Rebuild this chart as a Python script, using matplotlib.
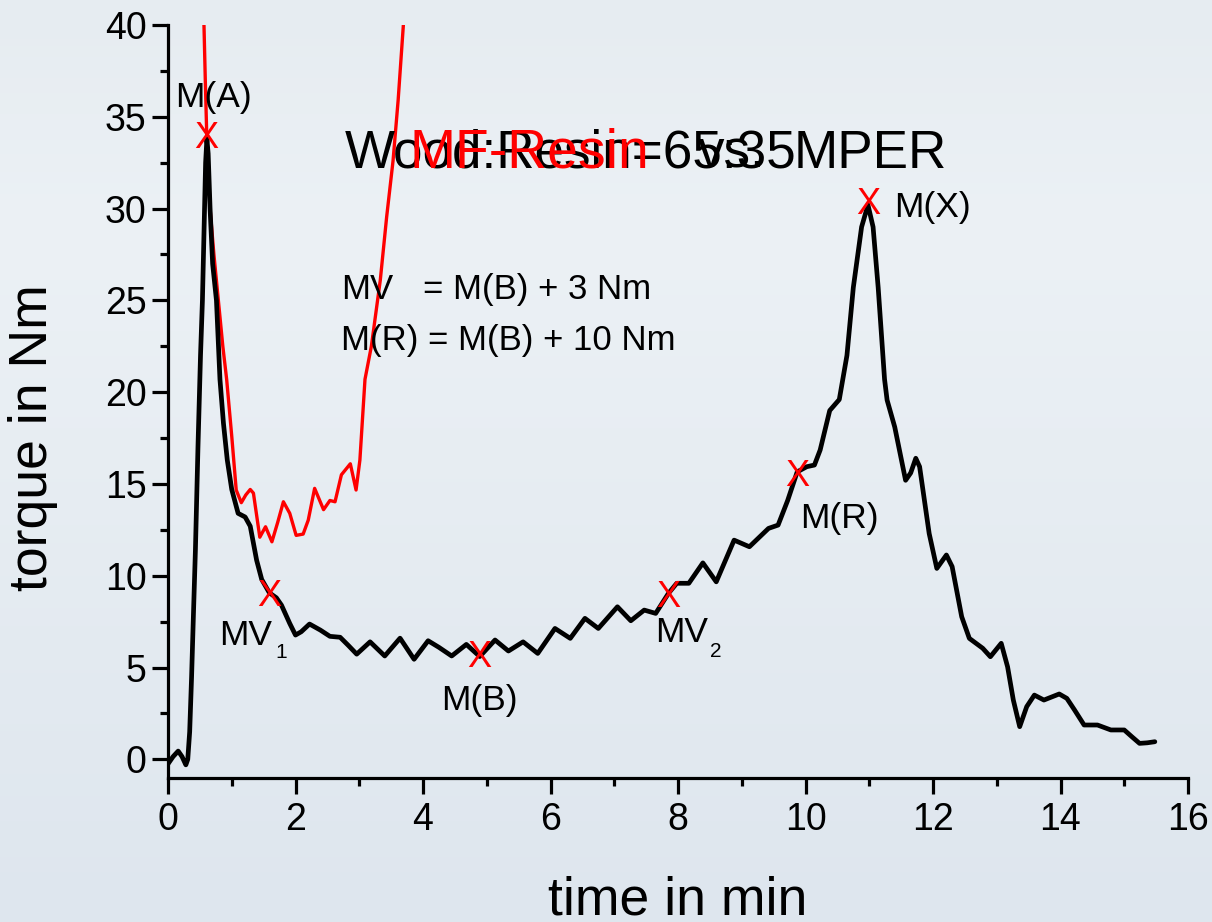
import numpy as np
import matplotlib
matplotlib.use("Agg")
import matplotlib.pyplot as plt
from matplotlib import font_manager
from matplotlib.ticker import MultipleLocator
from matplotlib.colors import LinearSegmentedColormap

# ---------------- data ----------------
black_t = [0.00, 0.08, 0.16, 0.22, 0.28, 0.31, 0.34, 0.37, 0.40, 0.43, 0.47, 0.51, 0.54, 0.57,
           0.59, 0.61, 0.63, 0.66, 0.70, 0.76, 0.815, 0.87, 0.93, 1.00, 1.10, 1.21, 1.29, 1.39,
           1.47, 1.59, 1.70, 1.78, 1.91, 2.00, 2.09, 2.22, 2.39, 2.54, 2.70, 2.83, 2.96, 3.17,
           3.40, 3.64, 3.86, 4.08, 4.25, 4.45, 4.68, 4.89, 5.13, 5.34, 5.57, 5.80, 6.07, 6.31,
           6.54, 6.75, 7.05, 7.26, 7.47, 7.65, 7.85, 7.98, 8.17, 8.39, 8.60, 8.88, 9.12, 9.42,
           9.57, 9.72, 9.87, 10.02, 10.14, 10.23, 10.38, 10.53, 10.65, 10.75, 10.88, 10.98,
           11.06, 11.14, 11.24, 11.28, 11.40, 11.57, 11.65, 11.73, 11.79, 11.94, 12.06, 12.21,
           12.30, 12.45, 12.57, 12.78, 12.90, 13.07, 13.17, 13.26, 13.36, 13.47, 13.59, 13.74,
           13.98, 14.10, 14.22, 14.37, 14.58, 14.79, 15.00, 15.12, 15.24, 15.36, 15.48]
black_v = [-0.25, 0.15, 0.45, 0.15, -0.3, 0.0, 1.5, 4.5, 8.0, 11.4, 17.0, 22.0, 25.0, 29.5,
           32.5, 33.8, 33.0, 30.0, 27.0, 25.0, 20.7, 18.3, 16.3, 14.7, 13.4, 13.2, 12.7, 10.85,
           9.8, 9.07, 8.8, 8.4, 7.4, 6.77, 6.95, 7.37, 7.04, 6.7, 6.65, 6.2, 5.73, 6.4,
           5.63, 6.6, 5.45, 6.46, 6.1, 5.63, 6.26, 5.6, 6.5, 5.9, 6.4, 5.77, 7.13, 6.59,
           7.68, 7.13, 8.31, 7.55, 8.13, 7.95, 9.04, 9.59, 9.59, 10.7, 9.67, 11.94, 11.58, 12.58,
           12.76, 14.1, 15.66, 15.94, 16.03, 16.85, 19.0, 19.6, 22.0, 25.7, 29.0, 30.2,
           29.0, 25.7, 20.7, 19.57, 18.1, 15.2, 15.6, 16.4, 15.94, 12.3, 10.4, 11.13,
           10.5, 7.77, 6.59, 6.05, 5.59, 6.32, 5.04, 3.23, 1.78, 2.87, 3.5, 3.23,
           3.56, 3.32, 2.69, 1.87, 1.87, 1.6, 1.6, 1.23, 0.87, 0.9, 0.96]

red_t = [0.555, 0.565, 0.585, 0.607, 0.66, 0.72, 0.79, 0.86, 0.92, 1.00, 1.07, 1.15, 1.22,
         1.29, 1.34, 1.44, 1.53, 1.63, 1.72, 1.81, 1.91, 2.01, 2.12, 2.20, 2.30, 2.44, 2.54,
         2.62, 2.72, 2.86, 2.95, 3.01, 3.09, 3.19, 3.33, 3.43, 3.53, 3.61, 3.69, 3.71]
red_v = [41.0, 39.9, 37.0, 34.1, 30.0, 27.5, 25.0, 22.5, 20.7, 17.6, 14.67, 13.98, 14.4,
         14.7, 14.5, 12.1, 12.67, 11.85, 12.9, 14.03, 13.4, 12.2, 12.27, 13.03, 14.76, 13.6, 14.1,
         14.03, 15.5, 16.1, 14.67, 16.3, 20.7, 22.5, 26.1, 29.55, 32.6, 35.9, 39.9, 41.0]

marker_names = ["M(A)", "MV1", "M(B)", "MV2", "M(R)", "M(X)"]
marker_t = [0.607, 1.59, 4.89, 7.85, 9.87, 10.98]
marker_v = [34.0, 9.07, 5.73, 9.04, 15.6, 30.4]

x_ticks = [0, 2, 4, 6, 8, 10, 12, 14, 16]
y_ticks = [0, 5, 10, 15, 20, 25, 30, 35, 40]

# ---------------- fonts ----------------
names = {f.name for f in font_manager.fontManager.ttflist}
FONT = "Liberation Sans" if "Liberation Sans" in names else "DejaVu Sans"
if "Liberation Sans Narrow" in names:
    NARROW, NSIZE = "Liberation Sans Narrow", 29
else:
    NARROW, NSIZE = FONT, 25
plt.rcParams["font.family"] = [FONT, "DejaVu Sans"]

W, H = 1212, 922
fig = plt.figure(figsize=(W / 100, H / 100), dpi=100)

# background gradient
bg = fig.add_axes([0, 0, 1, 1], zorder=-10)
cmap = LinearSegmentedColormap.from_list(
    "bg", [(0.0, (230/255, 236/255, 241/255)), (0.25, (236/255, 241/255, 245/255)),
           (1.0, (222/255, 230/255, 238/255))])
bg.imshow(np.linspace(0, 1, 256).reshape(-1, 1), aspect="auto", cmap=cmap,
          extent=[0, 1, 0, 1], origin="upper")
bg.axis("off")

def fx(x):
    return x / W

def fy(y):
    return 1 - y / H

L, R, T, B = 168, 1188, 25, 777.7
ax = fig.add_axes([fx(L), fy(B), (R - L) / W, (B - T) / H])
ax.set_facecolor("none")
ax.set_xlim(0, 16)
ax.set_ylim(-1, 40)
for s in ("top", "right"):
    ax.spines[s].set_visible(False)
for s in ("left", "bottom"):
    ax.spines[s].set_linewidth(2.3)
ax.set_xticks(x_ticks)
ax.set_yticks(y_ticks)
ax.xaxis.set_minor_locator(MultipleLocator(1))
ax.yaxis.set_minor_locator(MultipleLocator(2.5))
ax.tick_params(which="major", length=11.5, width=2.3, direction="out", labelsize=27)
ax.tick_params(which="minor", length=5.8, width=2.3, direction="out")
ax.tick_params(axis="x", which="major", pad=6)
ax.tick_params(axis="y", which="major", pad=4)

ax.plot(red_t, red_v, color="#ff0000", lw=2.4, solid_joinstyle="round", zorder=2)
ax.plot(black_t, black_v, color="black", lw=3.4, solid_joinstyle="round",
        solid_capstyle="round", zorder=3)

for t, v in zip(marker_t, marker_v):
    ax.annotate("X", (t, v), xytext=(0, -9.5), textcoords="offset points",
                ha="center", va="baseline", color="#ff0000", fontsize=26, zorder=4)

def ftext(x, y, s, **kw):
    fig.text(fx(x), fy(y), s, ha=kw.pop("ha", "left"), va=kw.pop("va", "baseline"), **kw)

# point labels
LS = 25.5
ftext(175, 107, "M(A)", fontsize=LS)
ftext(219, 645, "MV", fontsize=LS)
ftext(275, 658, "1", fontsize=15)
ftext(441, 710, "M(B)", fontsize=LS)
ftext(655, 642, "MV", fontsize=LS)
ftext(710, 657, "2", fontsize=15)
ftext(800, 528, "M(R)", fontsize=LS)
ftext(894, 217, "M(X)", fontsize=LS)

# titles (overlapping as in reference)
ftext(345, 168, "Wood:Resin=65:35", fontsize=38.2, color="black")
ftext(409, 168, "MF-Resin", fontsize=39.8, color="#ff0000")
ftext(698, 168, "vs.", fontsize=38.2, color="black")
ftext(794, 168, "MPER", fontsize=38.2, color="black")

# equations
ftext(341, 299, "MV", fontsize=NSIZE, family=[NARROW, "DejaVu Sans"])
ftext(423, 299, "= M(B) + 3 Nm", fontsize=NSIZE, family=[NARROW, "DejaVu Sans"])
ftext(341, 350, "M(R) = M(B) + 10 Nm", fontsize=NSIZE, family=[NARROW, "DejaVu Sans"])

# axis labels
ftext(678, 914, "time in min", fontsize=38.5, ha="center")
fig.text(fx(33), fy(437.5), "torque in Nm", fontsize=38.5, rotation=90,
         ha="center", va="center")

fig.savefig("out.png", dpi=100)
